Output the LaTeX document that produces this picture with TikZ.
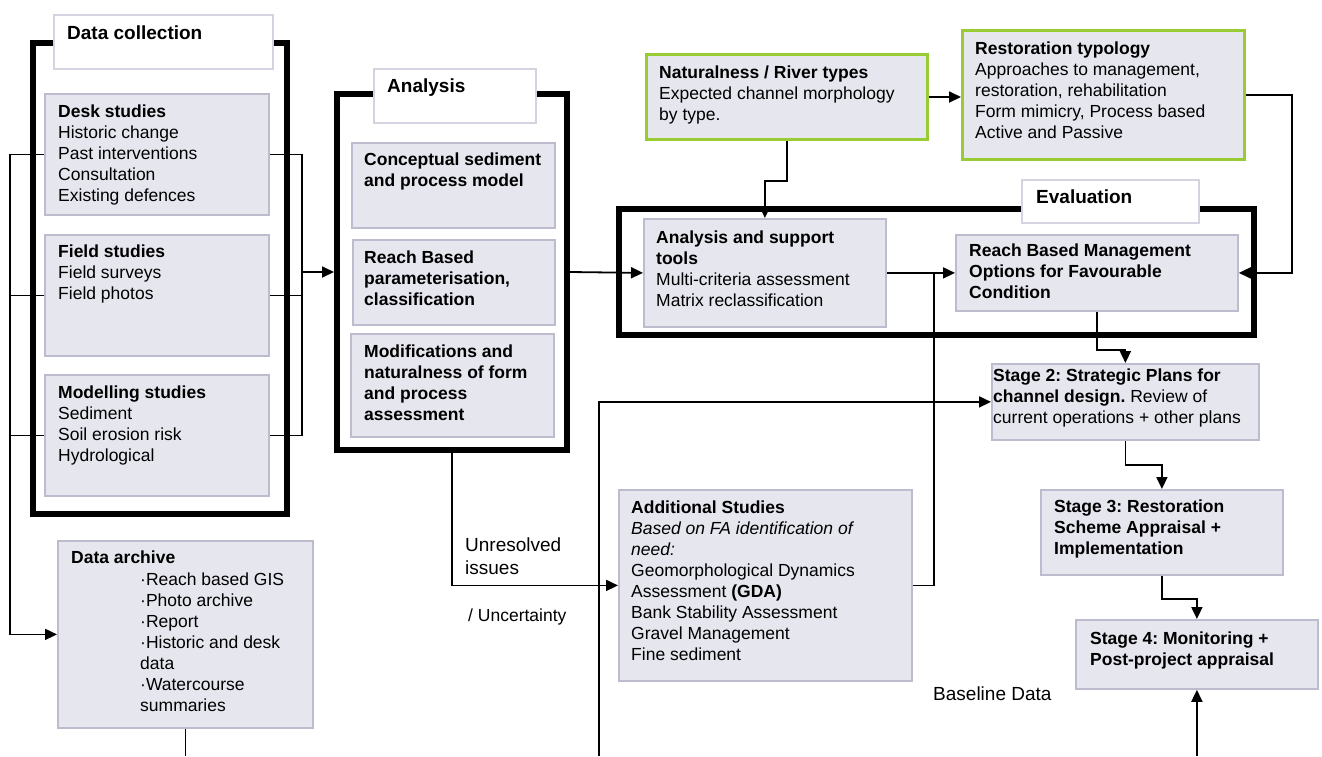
\documentclass[tikz,border=0pt]{standalone}
\usepackage{fontspec}
\setmainfont{Liberation Sans}
\usetikzlibrary{arrows.meta,calc}
\definecolor{boxfill}{RGB}{230,230,239}
\definecolor{boxline}{RGB}{188,188,206}
\definecolor{lblline}{RGB}{212,212,224}
\definecolor{grn}{RGB}{153,204,51}
\frenchspacing
\begin{document}
\begin{tikzpicture}[x=1pt,y=-1pt,
  box/.style={draw=boxline, fill=boxfill, line width=1.8pt, inner sep=0pt, anchor=north west},
  gbox/.style={box, draw=grn, line width=3pt},
  frm/.style={draw=black, line width=6pt, inner sep=0pt, anchor=center},
  lbl/.style={draw=lblline, fill=white, line width=1.5pt, inner sep=0pt, anchor=north west},
  txt/.style={inner sep=0pt, anchor=north west, align=left, font=\fontsize{17.5}{21}\selectfont},
  ttl/.style={inner sep=0pt, anchor=north west, font=\fontsize{19}{23}\selectfont\bfseries},
  conn/.style={draw=black, line width=1.8pt},
  arr/.style={conn, -{Triangle[length=12pt,width=11pt]}},
]
\useasboundingbox (0,0) rectangle (1322,756);
\fill[white] (0,0) rectangle (1322,756);

% frames
\node[frm, minimum width=254pt, minimum height=471pt] (dcframe) at (160,278.5) {};
\node[frm, minimum width=230pt, minimum height=356pt] (anaframe) at (452,272) {};
\node[frm, minimum width=635pt, minimum height=125.5pt] (evframe) at (936.5,271.75) {};

% label boxes
\node[lbl, minimum width=219pt, minimum height=54pt] (dclbl) at (53,14) {};
\node[lbl, minimum width=162pt, minimum height=54pt] (analbl) at (373,68) {};
\node[lbl, minimum width=177pt, minimum height=43pt] (evlbl) at (1021,179) {};
\node[ttl] (dcttl) at (67,26) {Data collection};
\node[ttl] (anattl) at (387,79) {Analysis};
\node[ttl] (evttl) at (1036,190) {Evaluation};

% data collection boxes
\node[box, minimum width=224pt, minimum height=121pt] (desk) at (44,93) {};
\node[box, minimum width=224pt, minimum height=121pt] (field) at (44,234) {};
\node[box, minimum width=224pt, minimum height=121pt] (model) at (44,374) {};
\node[txt] (desktxt) at (58,104.5) {\textbf{Desk studies}\\Historic change\\Past interventions\\Consultation\\Existing defences};
\node[txt] (fieldtxt) at (58,244.5) {\textbf{Field studies}\\Field surveys\\Field photos};
\node[txt] (modeltxt) at (58,385.5) {\textbf{Modelling studies}\\Sediment\\Soil erosion risk\\Hydrological};

% data archive
\node[box, minimum width=255pt, minimum height=187pt] (archive) at (57,540) {};
\node[txt] (archttl) at (71,550.5) {\textbf{Data archive}};
\node[txt] (archtxt) at (140,572.5) {·Reach based GIS\\·Photo archive\\·Report\\·Historic and desk\\data\\·Watercourse\\summaries};

% analysis boxes
\node[box, minimum width=203pt, minimum height=85pt] (concept) at (351,142) {};
\node[box, minimum width=202pt, minimum height=85pt] (reach) at (352,239) {};
\node[box, minimum width=203pt, minimum height=103pt] (modif) at (350,333) {};
\node[txt, font=\fontsize{17.5}{21}\selectfont\bfseries] (concepttxt) at (364,152.5) {Conceptual sediment\\and process model};
\node[txt, font=\fontsize{17.5}{21}\selectfont\bfseries] (reachtxt) at (364,250.5) {Reach Based\\parameterisation,\\classification};
\node[txt, font=\fontsize{17.5}{21}\selectfont\bfseries] (modiftxt) at (364,344.5) {Modifications and\\naturalness of form\\and process\\assessment};

% green boxes
\node[gbox, minimum width=281pt, minimum height=85pt] (nat) at (645,53) {};
\node[gbox, minimum width=282pt, minimum height=129pt] (rest) at (961,29) {};
\node[txt] (nattxt) at (659,65.5) {\textbf{Naturalness / River types}\\Expected channel morphology\\by type.};
\node[txt] (resttxt) at (975,41.5) {\textbf{Restoration typology}\\Approaches to management,\\restoration, rehabilitation\\Form mimicry, Process based\\Active and Passive};

% evaluation boxes
\node[box, minimum width=242pt, minimum height=108pt] (tools) at (643,218) {};
\node[box, minimum width=282pt, minimum height=76pt] (rbm) at (955,234) {};
\node[txt] (toolstxt) at (656,230.5) {\textbf{Analysis and support}\\\textbf{tools}\\Multi-criteria assessment\\Matrix reclassification};
\node[txt, font=\fontsize{17.5}{21}\selectfont\bfseries] (rbmtxt) at (969,243.5) {Reach Based Management\\Options for Favourable\\Condition};

% stages
\node[box, minimum width=267pt, minimum height=76pt] (s2) at (991,363) {};
\node[box, minimum width=242pt, minimum height=85pt] (s3) at (1040,489) {};
\node[box, minimum width=242pt, minimum height=69pt] (s4) at (1075,619) {};
\node[txt] (s2txt) at (993,368.5) {\textbf{Stage 2: Strategic Plans for}\\\textbf{channel design.} Review of\\current operations + other plans};
\node[txt, font=\fontsize{17.5}{21}\selectfont\bfseries] (s3txt) at (1054,499.5) {Stage 3: Restoration\\Scheme Appraisal +\\Implementation};
\node[txt, font=\fontsize{17.5}{21}\selectfont\bfseries] (s4txt) at (1090,631.5) {Stage 4: Monitoring +\\Post-project appraisal};

% additional studies
\node[box, minimum width=293pt, minimum height=191pt] (addl) at (618,489) {};
\node[txt] (addltxt) at (631,500.5) {\textbf{Additional Studies}\\\textit{Based on FA identification of}\\\textit{need:}\\Geomorphological Dynamics\\Assessment \textbf{(GDA)}\\Bank Stability Assessment\\Gravel Management\\Fine sediment};

% free labels
\node[txt, font=\fontsize{19}{23}\selectfont] (unres) at (465,538) {Unresolved\\issues};
\node[txt] (uncert) at (468,608.5) {/ Uncertainty};
\node[txt, font=\fontsize{19}{23}\selectfont] (basel) at (933,687) {Baseline Data};

% helper coordinates
\coordinate (lb) at (10,0);
\coordinate (rb) at (302,0);
\coordinate (bot) at (0,756);
\coordinate (jn) at (934,0);

% connectors: data collection buses
\draw[conn] (desk.west) -- (desk.west -| lb);
\draw[conn] (field.west) -- (field.west -| lb);
\draw[conn] (model.west) -- (model.west -| lb);
\draw[arr] (desk.west -| lb) -- (archive.west -| lb) -- (archive.west);
\draw[conn] (desk.east) -- (desk.east -| rb) -- (model.east -| rb) -- (model.east);
\draw[conn] (field.east) -- (field.east -| rb);
\draw[arr] (anaframe.west -| rb) -- (anaframe.west);

% analysis outputs
\draw[arr] (anaframe.east) -- (tools.west);
\draw[arr] (anaframe.south) |- (addl.west);
\draw[conn] (addl.east) -- (addl.east -| jn) -- (tools.east -| jn);
\draw[arr] (tools.east) -- (rbm.west);

% green boxes
\draw[arr] (nat.east) -- (nat.east -| rest.west);
\draw[arr] (nat.south) -- ++(0,40) -| (tools.north);
\draw[arr] (rest.east) -- ++(46,0) |- (rbm.east);

% stages
\draw[arr] (rbm.south) -- ++(0,38) -| (s2.north);
\draw[arr] (s2.south) -- ++(0,24) -| (s3.north);
\draw[arr] (s3.south) -- ++(0,23) -| (s4.north);

% lines to the bottom edge
\draw[conn] (archive.south) -- (archive.south |- bot);
\draw[arr] (599,756) |- (s2.west);
\draw[arr] (s4.south |- bot) -- (s4.south);
\end{tikzpicture}
\end{document}
